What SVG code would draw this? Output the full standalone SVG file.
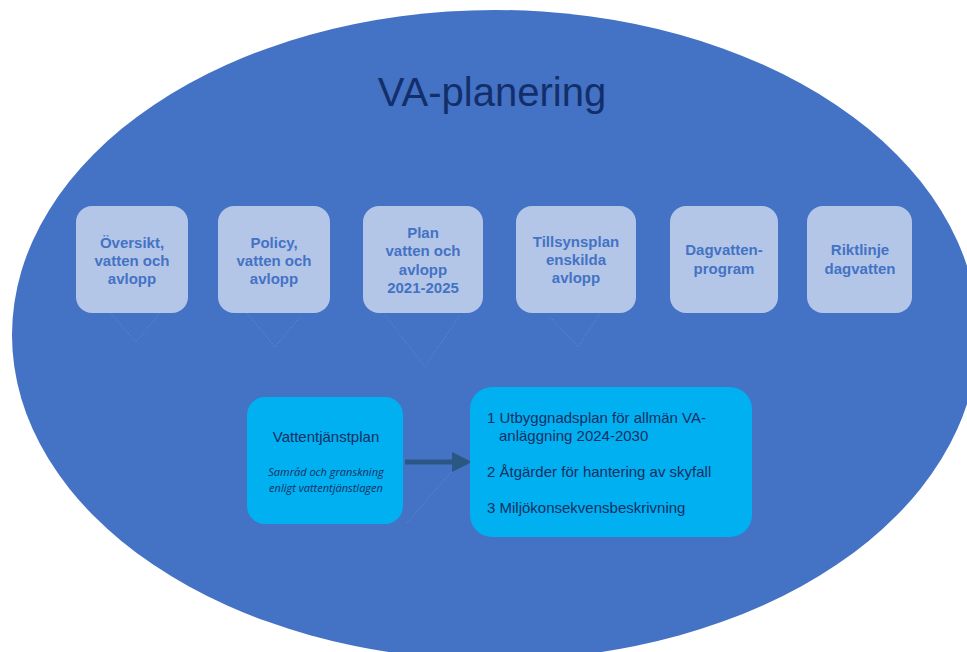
<svg xmlns="http://www.w3.org/2000/svg" width="967" height="652" viewBox="0 0 967 652">
<style>
.lt{fill:#B3C6E8;}
.lt-t{font-family:"Liberation Sans",Arial,sans-serif;font-size:15px;font-weight:bold;fill:#4472C4;text-anchor:middle;}
.cy{fill:#00B0F0;}
.dk{font-family:"Liberation Sans",Arial,sans-serif;font-size:15px;fill:#172F63;}
.it{font-family:"Open Sans",sans-serif;font-size:11px;font-style:italic;fill:#172F63;text-anchor:middle;}
.ghost{fill:none;stroke:#9AB0DC;stroke-width:1;stroke-dasharray:1 2;opacity:0.45;}
</style>
<defs>
<marker id="ah" markerWidth="4" markerHeight="4" refX="0" refY="2" orient="auto" markerUnits="strokeWidth">
<path d="M0,0 L4,2 L0,4 Z" fill="#2B5785"/>
</marker>
</defs>
<rect width="967" height="652" fill="#FFFFFF"/>
<g id="background">
<ellipse cx="495" cy="335" rx="483" ry="325" fill="#4472C4"/>
<text x="492" y="106" font-family="'Liberation Sans',Arial,sans-serif" font-size="40" fill="#132F6B" text-anchor="middle">VA-planering</text>
</g>
<g id="connectors">
<path class="ghost" d="M110,313 L136,342 L160,313"/>
<path class="ghost" d="M247,313 L275,347 L300,317"/>
<path class="ghost" d="M385,315 L425,367 L460,315"/>
<path class="ghost" d="M550,317 L578,347 L600,313"/>
<path class="ghost" d="M453,470 L407,523"/>
<line x1="405" y1="462" x2="452" y2="462" stroke="#2B5785" stroke-width="5" marker-end="url(#ah)"/>
</g>
<g id="n1">
<rect class="lt" x="76" y="206" width="112" height="107" rx="16"/>
<text class="lt-t" x="132" y="248">Översikt,</text>
<text class="lt-t" x="132" y="266">vatten och</text>
<text class="lt-t" x="132" y="284">avlopp</text>
</g>
<g id="n2">
<rect class="lt" x="218" y="206" width="112" height="107" rx="16"/>
<text class="lt-t" x="274" y="248">Policy,</text>
<text class="lt-t" x="274" y="266">vatten och</text>
<text class="lt-t" x="274" y="284">avlopp</text>
</g>
<g id="n3">
<rect class="lt" x="363" y="206" width="120" height="107" rx="16"/>
<text class="lt-t" x="423" y="238">Plan</text>
<text class="lt-t" x="423" y="256">vatten och</text>
<text class="lt-t" x="423" y="275">avlopp</text>
<text class="lt-t" x="423" y="293">2021-2025</text>
</g>
<g id="n4">
<rect class="lt" x="516" y="206" width="120" height="107" rx="16"/>
<text class="lt-t" x="576" y="247">Tillsynsplan</text>
<text class="lt-t" x="576" y="265">enskilda</text>
<text class="lt-t" x="576" y="283">avlopp</text>
</g>
<g id="n5">
<rect class="lt" x="670" y="206" width="108" height="107" rx="16"/>
<text class="lt-t" x="724" y="255">Dagvatten-</text>
<text class="lt-t" x="724" y="274">program</text>
</g>
<g id="n6">
<rect class="lt" x="807" y="206" width="105" height="107" rx="16"/>
<text class="lt-t" x="860" y="255">Riktlinje</text>
<text class="lt-t" x="860" y="274">dagvatten</text>
</g>
<g id="vattentjanstplan">
<rect class="cy" x="247" y="397" width="156" height="127" rx="18"/>
<text class="dk" x="326" y="442" text-anchor="middle">Vattentjänstplan</text>
<text class="it" x="326" y="476">Samråd och granskning</text>
<text class="it" x="326" y="492">enligt vattentjänstlagen</text>
</g>
<g id="delar">
<rect class="cy" x="470" y="387" width="282" height="150" rx="22"/>
<text class="dk" x="487" y="423">1 Utbyggnadsplan för allmän VA-</text>
<text class="dk" x="499" y="441">anläggning 2024-2030</text>
<text class="dk" x="487" y="477">2 Åtgärder för hantering av skyfall</text>
<text class="dk" x="487" y="513">3 Miljökonsekvensbeskrivning</text>
</g>
</svg>
